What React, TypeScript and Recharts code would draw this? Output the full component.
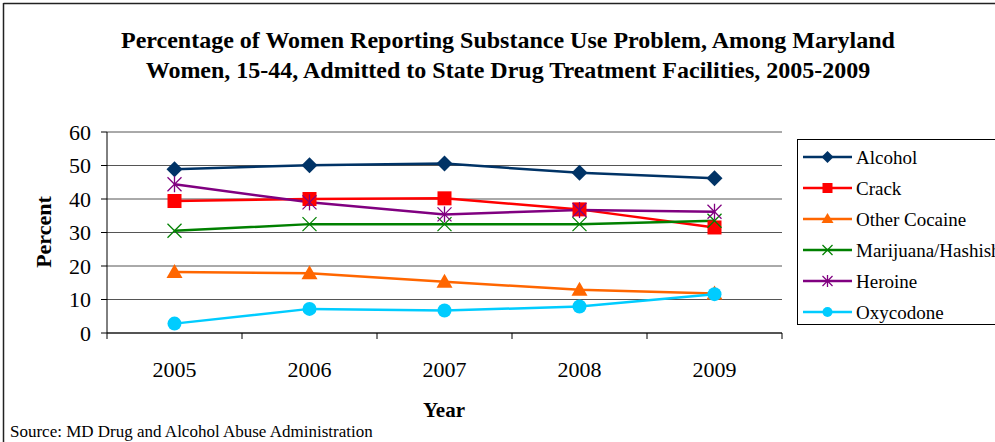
import React from "react";
import { CartesianGrid, Line, LineChart, XAxis, YAxis } from "recharts";

const years = ["2005", "2006", "2007", "2008", "2009"];
const alcohol = [48.9, 50.1, 50.6, 47.8, 46.2];
const crack = [39.4, 40.0, 40.2, 36.9, 31.5];
const otherCocaine = [18.2, 17.8, 15.3, 12.9, 11.8];
const marijuana = [30.5, 32.5, 32.5, 32.5, 33.5];
const heroine = [44.4, 39.0, 35.4, 36.7, 36.2];
const oxycodone = [2.8, 7.2, 6.7, 7.9, 11.6];
const yTicks = [0, 10, 20, 30, 40, 50, 60];

const FONT = "Liberation Serif, Times New Roman, Times, DejaVu Serif, serif";

type Shape = "diamond" | "square" | "triangle" | "x" | "star" | "circle";

const series: { key: string; name: string; color: string; shape: Shape; values: number[] }[] = [
  { key: "alcohol", name: "Alcohol", color: "#003366", shape: "diamond", values: alcohol },
  { key: "crack", name: "Crack", color: "#ff0000", shape: "square", values: crack },
  { key: "otherCocaine", name: "Other Cocaine", color: "#ff6600", shape: "triangle", values: otherCocaine },
  { key: "marijuana", name: "Marijuana/Hashish", color: "#008000", shape: "x", values: marijuana },
  { key: "heroine", name: "Heroine", color: "#800080", shape: "star", values: heroine },
  { key: "oxycodone", name: "Oxycodone", color: "#00ccff", shape: "circle", values: oxycodone },
];

const data = years.map((year, i) => {
  const row: Record<string, number | string> = { year, pos: i + 0.5 };
  series.forEach((s) => (row[s.key] = s.values[i]));
  return row;
});

function marker(shape: Shape, color: string, cx: number, cy: number, r: number, key?: string) {
  switch (shape) {
    case "diamond":
      return (
        <polygon key={key} points={`${cx},${cy - r} ${cx + r},${cy} ${cx},${cy + r} ${cx - r},${cy}`} fill={color} />
      );
    case "square":
      return <rect key={key} x={cx - r + 1} y={cy - r + 1} width={2 * r - 2} height={2 * r - 2} fill={color} />;
    case "triangle":
      return (
        <polygon key={key} points={`${cx},${cy - r} ${cx + r},${cy + r - 2} ${cx - r},${cy + r - 2}`} fill={color} />
      );
    case "x":
      return (
        <g key={key} stroke={color} strokeWidth={1.3}>
          <line x1={cx - r + 1} y1={cy - r + 1} x2={cx + r - 1} y2={cy + r - 1} />
          <line x1={cx - r + 1} y1={cy + r - 1} x2={cx + r - 1} y2={cy - r + 1} />
        </g>
      );
    case "star":
      return (
        <g key={key} stroke={color} strokeWidth={1.3}>
          <line x1={cx - r + 1} y1={cy - r + 1} x2={cx + r - 1} y2={cy + r - 1} />
          <line x1={cx - r + 1} y1={cy + r - 1} x2={cx + r - 1} y2={cy - r + 1} />
          <line x1={cx} y1={cy - r} x2={cx} y2={cy + r} />
        </g>
      );
    default:
      return <circle key={key} cx={cx} cy={cy} r={r - 1} fill={color} />;
  }
}

const legendTop = 157;
const legendStep = 31;

export default function App() {
  return (
    <div style={{ position: "absolute", left: 0, top: 0, width: 995, height: 442, background: "#fff", overflow: "hidden" }}>
      <LineChart width={995} height={442} data={data} margin={{ top: 132, right: 213, bottom: 0, left: 0 }}>
        <CartesianGrid xAxisId="main" vertical={false} stroke="#555" strokeWidth={1} />
        <XAxis
          xAxisId="bounds"
          type="number"
          dataKey="pos"
          domain={[0, 5]}
          ticks={[0, 1, 2, 3, 4, 5]}
          tickFormatter={() => ""}
          height={1}
          axisLine={{ stroke: "#000" }}
          tickLine={{ stroke: "#000" }}
          tickSize={6}
        />
        <XAxis
          xAxisId="main"
          type="number"
          dataKey="pos"
          domain={[0, 5]}
          ticks={[0.5, 1.5, 2.5, 3.5, 4.5]}
          tickFormatter={(v) => years[Math.floor(Number(v))]}
          height={108}
          axisLine={false}
          tickLine={false}
          tickSize={6}
          tickMargin={21}
          tick={{ fill: "#000", fontSize: 22, fontFamily: FONT }}
        />
        <YAxis
          type="number"
          domain={[0, 60]}
          ticks={yTicks}
          width={107}
          axisLine={{ stroke: "#000" }}
          tickLine={{ stroke: "#000" }}
          tickSize={6}
          tickMargin={10}
          tick={{ fill: "#000", fontSize: 22, fontFamily: FONT }}
        />
        {series.map((s) => (
          <Line
            key={s.key}
            xAxisId="main"
            dataKey={s.key}
            name={s.name}
            stroke={s.color}
            strokeWidth={2.5}
            isAnimationActive={false}
            dot={(p: any) => marker(s.shape, s.color, p.cx, p.cy, 8, `${s.key}-${p.index}`)}
            activeDot={false}
          />
        ))}
      </LineChart>
      <svg
        width={995}
        height={442}
        style={{ position: "absolute", left: 0, top: 0, pointerEvents: "none" }}
        fontFamily={FONT}
      >
        <line x1={3.5} y1={3.5} x2={995} y2={3.5} stroke="#222" strokeWidth={1.5} />
        <line x1={3.5} y1={3} x2={3.5} y2={442} stroke="#222" strokeWidth={1.5} />
        <text x={508} y={48} textAnchor="middle" fontSize={24} fontWeight="bold" fill="#000">
          Percentage of Women Reporting Substance Use Problem, Among Maryland
        </text>
        <text x={508} y={78} textAnchor="middle" fontSize={24} fontWeight="bold" fill="#000">
          Women, 15-44, Admitted to State Drug Treatment Facilities, 2005-2009
        </text>
        <text x={444} y={417} textAnchor="middle" fontSize={21} fontWeight="bold" fill="#000">
          Year
        </text>
        <text
          transform="translate(51,232) rotate(-90)"
          textAnchor="middle"
          fontSize={22}
          fontWeight="bold"
          fill="#000"
        >
          Percent
        </text>
        <text x={10} y={437} fontSize={17} fill="#000">
          Source: MD Drug and Alcohol Abuse Administration
        </text>
        <rect x={797.5} y={139.5} width={220} height={185} fill="none" stroke="#000" strokeWidth={1} />
        {series.map((s, i) => {
          const cy = legendTop + i * legendStep;
          return (
            <g key={s.key}>
              <line x1={803} y1={cy} x2={852} y2={cy} stroke={s.color} strokeWidth={2.5} />
              {marker(s.shape, s.color, 827.5, cy, 6)}
              <text x={856} y={cy + 6.5} fontSize={19} fill="#000">
                {s.name}
              </text>
            </g>
          );
        })}
      </svg>
    </div>
  );
}
